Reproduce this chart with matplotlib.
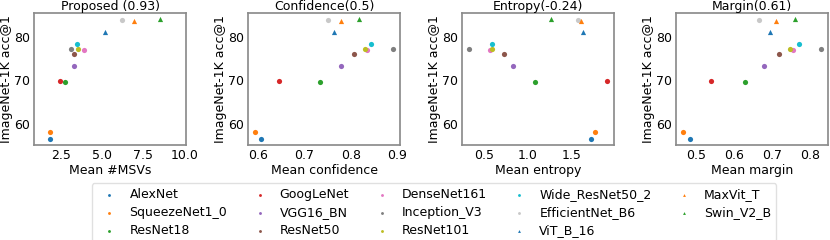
"""Top-1 accuracy of ImageNet models against four uncertainty scores."""

import matplotlib
matplotlib.use('Agg')
from matplotlib import pyplot

models = ['AlexNet', 'SqueezeNet1_0', 'ResNet18', 'GoogLeNet', 'VGG16_BN',
          'ResNet50', 'DenseNet161', 'Inception_V3', 'ResNet101',
          'Wide_ResNet50_2', 'EfficientNet_B6', 'ViT_B_16', 'MaxVit_T',
          'Swin_V2_B']
acc1 = [56.52, 58.09, 69.76, 69.78, 73.36, 76.13, 77.14, 77.29, 77.37,
        78.47, 84.01, 81.07, 83.70, 84.11]

# Mean score of each model.
msv = [1.83, 1.83, 2.76, 2.41, 3.31, 3.31, 3.88, 3.11, 3.55, 3.48,
       6.18, 5.16, 6.91, 8.51]
confidence = [0.607, 0.594, 0.734, 0.646, 0.778, 0.806, 0.835, 0.891,
              0.830, 0.843, 0.750, 0.764, 0.778, 0.817]
entropy = [1.715, 1.760, 1.078, 1.904, 0.828, 0.730, 0.568, 0.330, 0.594,
           0.594, 1.576, 1.633, 1.602, 1.267]
margin = [0.483, 0.465, 0.629, 0.539, 0.680, 0.718, 0.756, 0.830, 0.747,
          0.771, 0.665, 0.696, 0.712, 0.761]

titles = ['Proposed (0.93)', 'Confidence(0.5)', 'Entropy(-0.24)',
          'Margin(0.61)']
xlabels = ['Mean #MSVs', 'Mean confidence', 'Mean entropy', 'Mean margin']
scores = [msv, confidence, entropy, margin]

colors = ['C0', 'C1', 'C2', 'C3', 'C4', 'C5', 'C6', 'C7', 'C8', 'C9',
          '#c8c8c8', 'C0', 'C1', 'C2']
markers = ['o'] * 11 + ['^'] * 3

pyplot.rc('font', family='DejaVu Sans', size=9)
fig, axes = pyplot.subplots(1, 4, figsize=(8.3, 2.4), dpi=100)
fig.subplots_adjust(left=0.0413, right=0.9976, top=0.9446, bottom=0.396,
                    wspace=0.408)

for ax, x, title, xlabel in zip(axes, scores, titles, xlabels):
    for i, name in enumerate(models):
        ax.scatter(x[i], acc1[i], s=14, c=colors[i], marker=markers[i],
                   label=name, linewidths=0)
    ax.set_title(title, fontsize=9, pad=2)
    ax.set_xlabel(xlabel, fontsize=9, labelpad=1)
    ax.set_ylabel('ImageNet-1K acc@1', fontsize=9, labelpad=1)
    ax.set_yticks([60, 70, 80])
    ax.tick_params(length=0, pad=3, labelsize=9)
    for spine in ax.spines.values():
        spine.set_color('0.55')
        spine.set_linewidth(1.25)

axes[0].set_xlim(0.87, 10.1)
axes[0].set_xticks([2.5, 5.0, 7.5, 10.0])
axes[1].set_xticks([0.6, 0.7, 0.8, 0.9])
axes[2].set_xticks([0.5, 1.0, 1.5])
axes[3].set_xticks([0.5, 0.6, 0.7, 0.8])

handles, labels = axes[0].get_legend_handles_labels()
fig.legend(handles, labels, loc='upper center', ncol=5,
           bbox_to_anchor=(0.523, 0.262), fontsize=9, markerscale=0.55,
           frameon=True, edgecolor='0.85', handletextpad=0.6,
           columnspacing=1.6, labelspacing=0.38, borderpad=0.4)

fig.savefig('out.png', dpi=100)
